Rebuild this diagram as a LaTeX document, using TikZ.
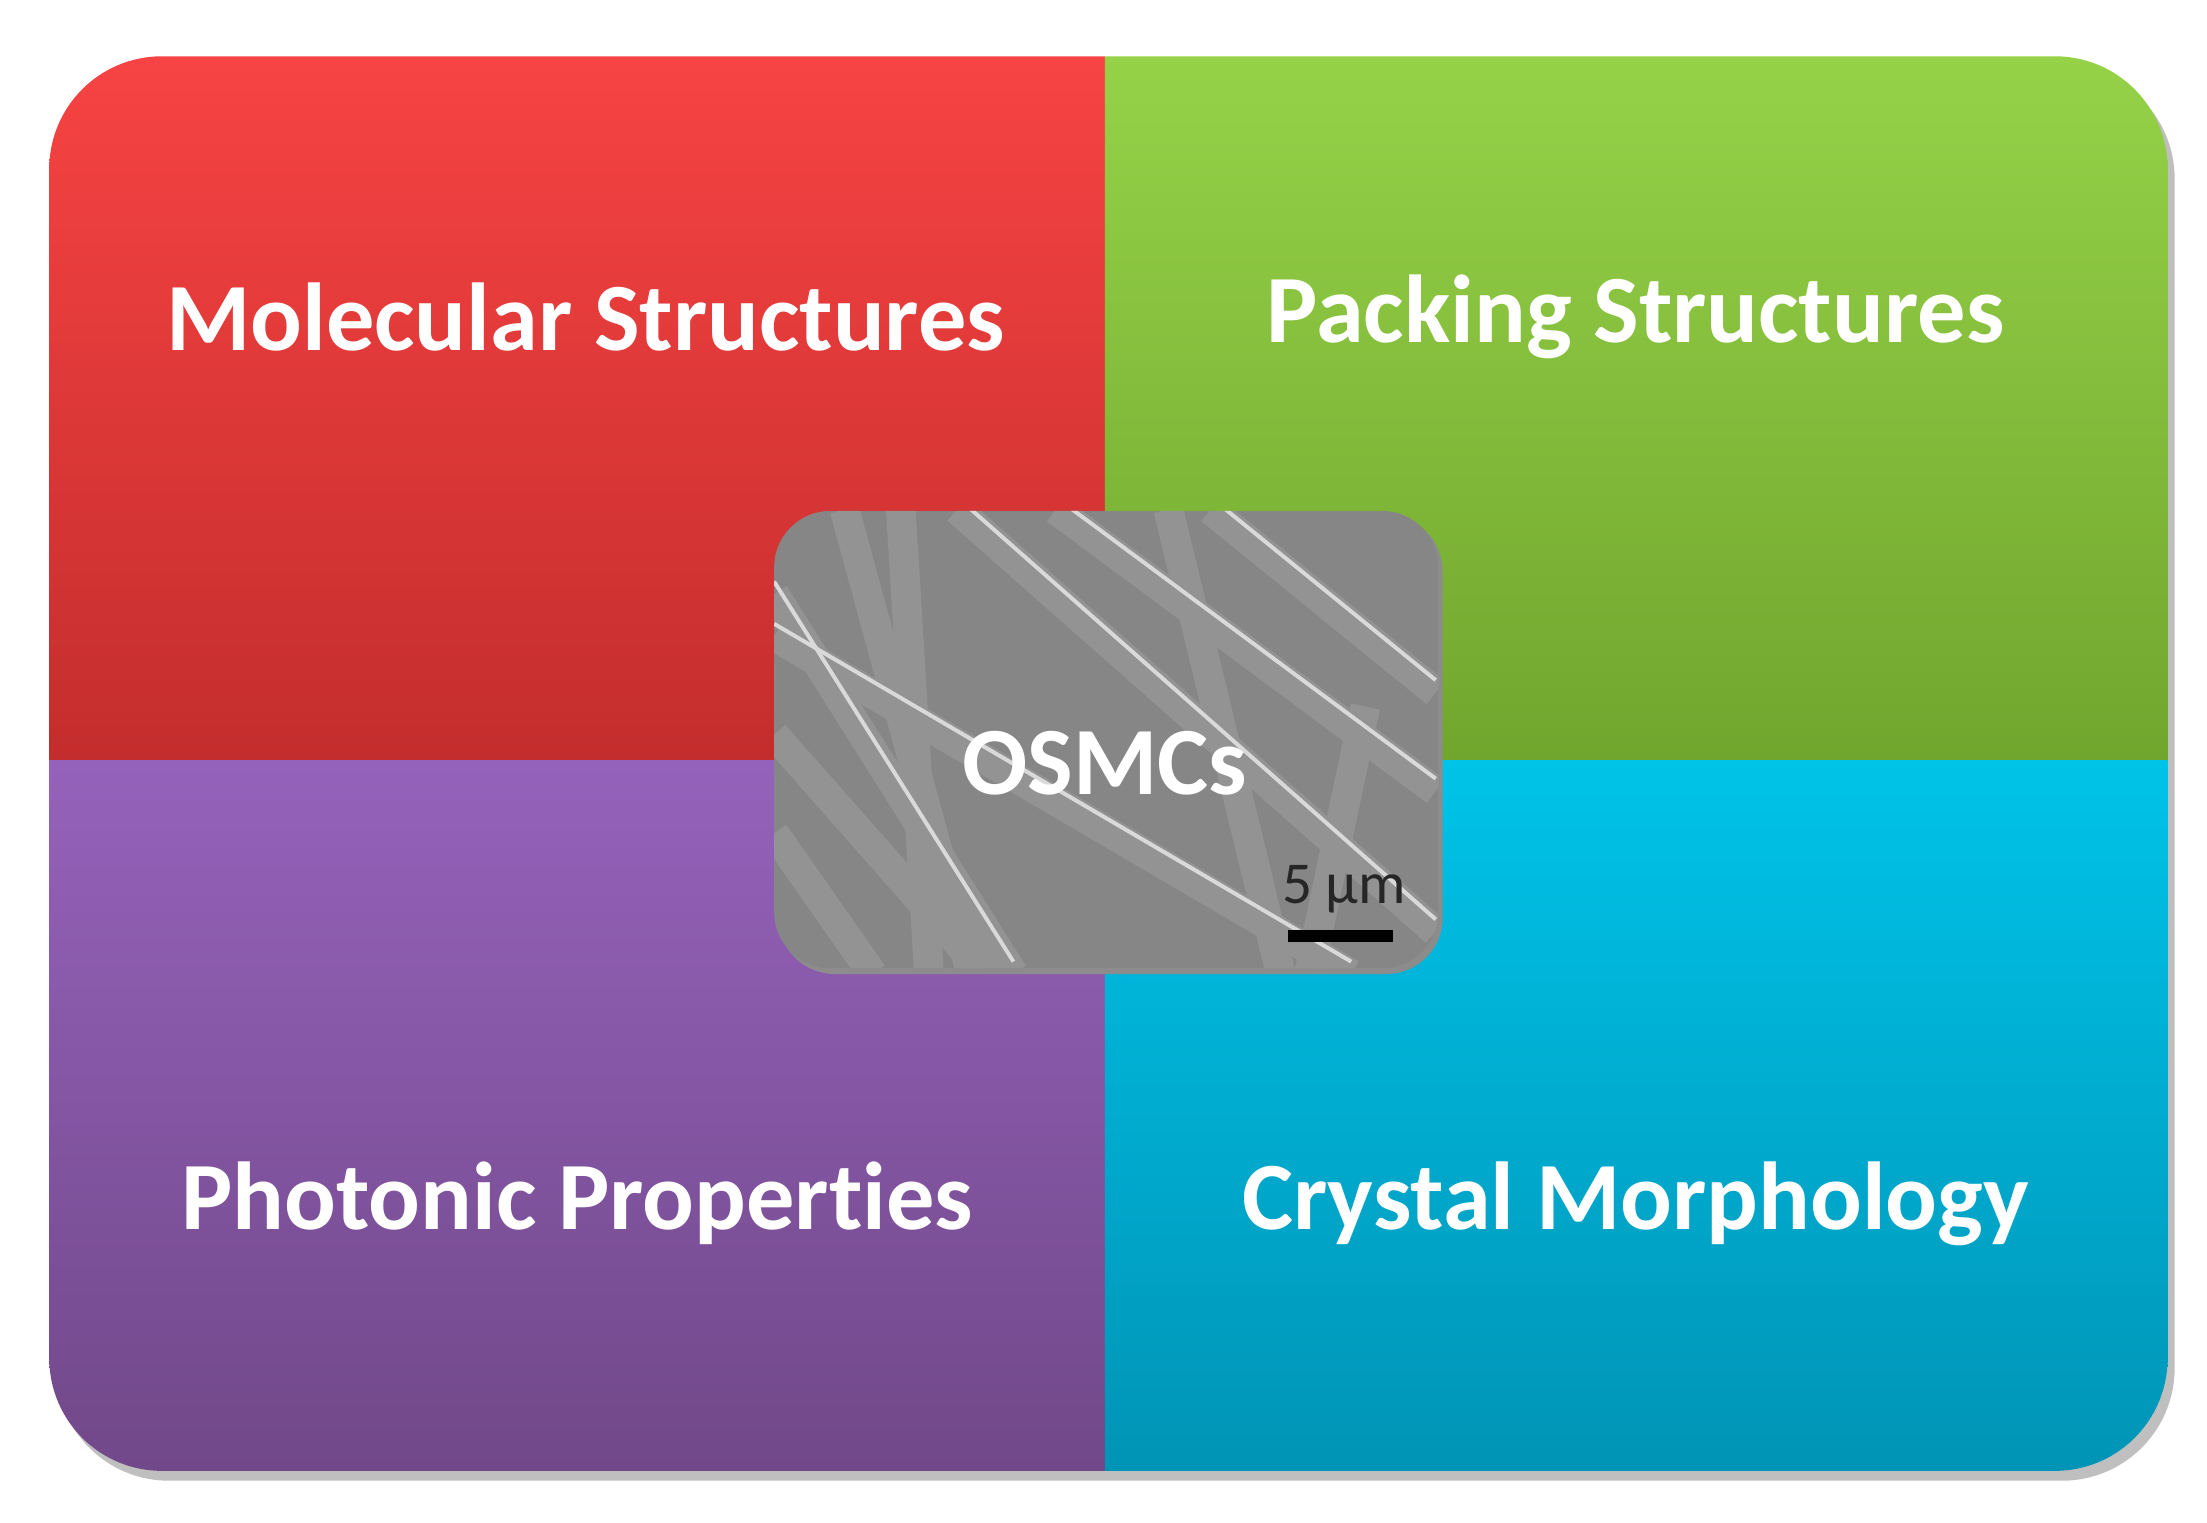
\documentclass[tikz,border=0pt]{standalone}
\usepackage{fontspec}
\setmainfont[Ligatures=NoCommon,Contextuals=NoAlternate]{Carlito}
\definecolor{rtop}{HTML}{F74343}\definecolor{rbot}{HTML}{C42D2D}
\definecolor{gtop}{HTML}{95D248}\definecolor{gbot}{HTML}{71A62E}
\definecolor{ptop}{HTML}{9562BB}\definecolor{pbot}{HTML}{714889}
\definecolor{ctop}{HTML}{00C3E8}\definecolor{cbot}{HTML}{0094B6}
\tikzset{lbl/.style={text=white,font=\fontsize{19.5}{23}\selectfont\bfseries},
fib/.style={line width=6pt,draw=gray!85}}
\begin{document}
\begin{tikzpicture}
\fill[white] (0,0) rectangle (15.68,10.82);
\useasboundingbox (0,0) rectangle (15.68,10.82);
\fill[black!25,rounded corners=0.8cm] (0.40,0.30) rectangle (15.45,10.35);
\begin{scope}
\clip[rounded corners=0.8cm] (0.35,0.37) rectangle (15.40,10.42);
\shade[top color=rtop,bottom color=rbot] (0.35,5.42) rectangle (7.85,10.42);
\shade[top color=gtop,bottom color=gbot] (7.85,5.42) rectangle (15.40,10.42);
\shade[top color=ptop,bottom color=pbot] (0.35,0.37) rectangle (7.85,5.42);
\shade[top color=ctop,bottom color=cbot] (7.85,0.37) rectangle (15.40,5.42);
\end{scope}
\node[lbl] (mol) at (4.16,8.57) {Molecular Structures};
\node[lbl] (pack) at (11.62,8.57) {Packing Structures};
\node[lbl] (phot) at (4.10,2.27) {Photonic Properties};
\node[lbl] (crys) at (11.62,2.27) {Crystal Morphology};
\fill[black!45,rounded corners=0.4cm] (5.53,3.90) rectangle (10.25,7.16);
\begin{scope}
\clip[rounded corners=0.4cm] (5.50,3.94) rectangle (10.22,7.19);
\fill[gray!95] (5.50,3.94) rectangle (10.22,7.19);
\foreach \a/\b/\c/\d in {5.5/6.6/7.2/3.9, 6.8/7.2/10.2/4.2, 7.5/7.2/10.2/5.2, 5.5/5.6/7.0/3.9, 6.0/7.2/6.9/3.9, 8.6/7.2/10.2/5.9, 5.5/4.9/6.2/3.9, 9.7/5.8/9.3/3.9, 8.3/7.2/9.1/3.9, 5.5/6.3/9.6/3.9, 6.4/7.2/6.6/3.9}
  \draw[fib] (\a,\b) -- (\c,\d);
\foreach \a/\b/\c/\d in {5.5/6.6/7.2/3.9, 6.8/7.2/10.2/4.2, 7.5/7.2/10.2/5.2, 8.6/7.2/10.2/5.9, 5.5/6.3/9.6/3.9}
  \draw[white!70!gray,line width=0.8pt] ([yshift=2.5pt]\a,\b) -- ([yshift=2.5pt]\c,\d);
\end{scope}
\node[text=white,font=\fontsize{19.5}{23}\selectfont\bfseries] (osm) at (7.85,5.40) {OSMCs};
\node[text=black!85,font=\fontsize{12}{14}\selectfont] (scale) at (9.55,4.50) {5 µm};
\coordinate (sa) at (9.15,4.17);
\coordinate (sb) at (9.90,4.17);
\draw[line width=2.5pt,black] (sa) -- (sb);
\end{tikzpicture}
\end{document}
